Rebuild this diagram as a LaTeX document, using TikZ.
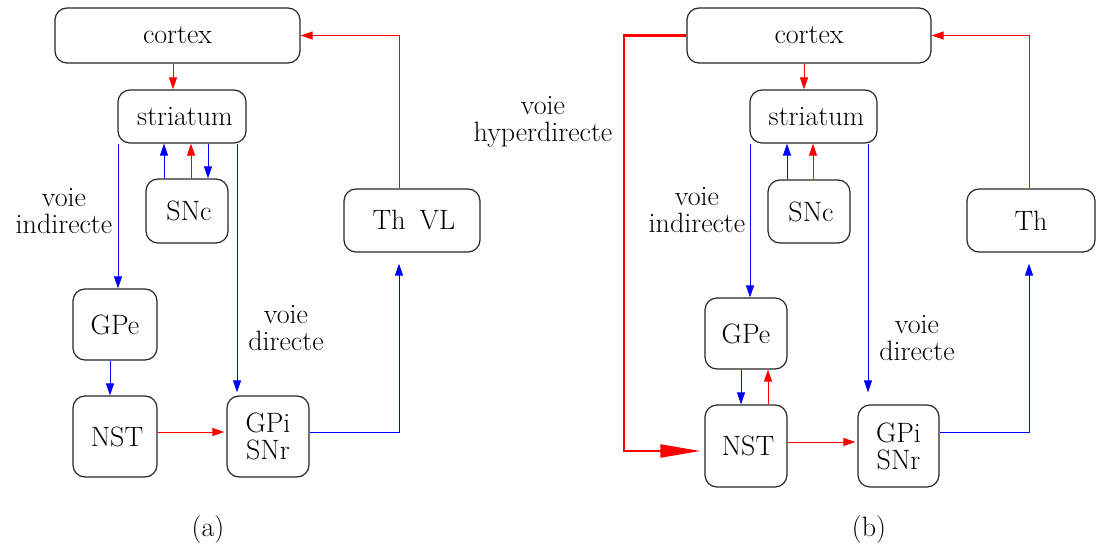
\documentclass[tikz,border=0pt]{standalone}
\usetikzlibrary{arrows.meta}
\begin{document}
\begin{tikzpicture}[x=1pt,y=-1pt,
  every node/.style={font=\rmfamily\fontsize{28}{27}\selectfont},
  box/.style={draw=black!85, line width=1.2pt, rounded corners=12pt, inner sep=0pt, align=center},
  lbl/.style={inner sep=0pt, align=center},
  rarr/.style={draw=red, line width=1pt, -{Triangle[length=12pt,width=8pt]}},
  barr/.style={draw=blue, line width=1pt, -{Triangle[length=12pt,width=8pt]}},
  hyper/.style={draw=red, line width=2.2pt, -{Triangle[length=40pt,width=13pt]}}]
\useasboundingbox (0,0) rectangle (1096,548);
% ---------- panel (a) ----------
\node[box, minimum width=245pt, minimum height=55pt] (cortexA) at (177.5,35.5) {cortex};
\node[box, minimum width=128pt, minimum height=53pt] (striatA) at (182,116.5) {\hspace*{6pt}striatum};
\node[box, minimum width=82pt, minimum height=64pt] (SNcA) at (187,211) {\hspace*{4pt}SNc};
\node[box, minimum width=84pt, minimum height=71pt] (GPeA) at (115,324.5) {GPe};
\node[box, minimum width=84pt, minimum height=81pt] (NSTA) at (115,436.5) {\hspace*{4pt}NST};
\node[box, minimum width=82pt, minimum height=81pt] (GPiA) at (268,436.5) {GPi\\SNr};
\node[box, minimum width=136pt, minimum height=63pt] (ThA) at (412,220.5) {\hspace*{4pt}Th\hspace{0.5em}VL};
\node[lbl] (indA) at (64,211) {voie\\indirecte};
\node[lbl] (dirA) at (286,328) {voie\\directe};
\node[lbl] (capA) at (208,530) {(a)};
\draw[rarr] (cortexA.south -| 173,0) -- (striatA.north -| 173,0);
\draw[barr] (SNcA.north -| 164,0) -- (striatA.south -| 164,0);
\draw[rarr] (SNcA.north -| 191,0) -- (striatA.south -| 191,0);
\draw[barr] (striatA.south -| 208,0) -- (SNcA.north -| 208,0);
\draw[barr] (striatA.south -| 118,0) -- (GPeA.north -| 118,0);
\draw[barr] (GPeA.south -| 110,0) -- (NSTA.north -| 110,0);
\draw[barr, shorten >=3pt] (striatA.south -| 237,0) -- (GPiA.north -| 237,0);
\draw[rarr, shorten >=2pt] (NSTA.east |- 0,432) -- (GPiA.west |- 0,432);
\coordinate (cA) at (399,432);
\draw[barr, shorten >=11pt] (GPiA.east |- cA) -- (cA) -- (ThA.south -| cA);
\coordinate (dA) at (399,35.5);
\draw[rarr] (ThA.north -| dA) -- (dA) -- (cortexA.east);
% ---------- panel (b) ----------
\node[box, minimum width=244pt, minimum height=55pt] (cortexB) at (809,35.5) {cortex};
\node[box, minimum width=127pt, minimum height=53pt] (striatB) at (813.5,116.5) {\hspace*{6pt}striatum};
\node[box, minimum width=82pt, minimum height=63pt] (SNcB) at (809,211.5) {\hspace*{4pt}SNc};
\node[box, minimum width=82pt, minimum height=71pt] (GPeB) at (746,333.5) {GPe};
\node[box, minimum width=82pt, minimum height=82pt] (NSTB) at (746,446) {\hspace*{4pt}NST};
\node[box, minimum width=81pt, minimum height=82pt] (GPiB) at (898.5,446) {GPi\\SNr};
\node[box, minimum width=128pt, minimum height=63pt] (ThB) at (1031,220.5) {Th};
\node[lbl] (indB) at (697,210) {voie\\indirecte};
\node[lbl] (dirB) at (917,338) {voie\\directe};
\node[lbl] (hypB) at (543,122) {voie\\hyperdirecte};
\node[lbl] (capB) at (869,530) {(b)};
\draw[rarr] (cortexB.south -| 804,0) -- (striatB.north -| 804,0);
\draw[barr] (SNcB.north -| 787,0) -- (striatB.south -| 787,0);
\draw[rarr] (SNcB.north -| 813,0) -- (striatB.south -| 813,0);
\draw[barr] (striatB.south -| 750,0) -- (GPeB.north -| 750,0);
\draw[barr] (GPeB.south -| 741,0) -- (NSTB.north -| 741,0);
\draw[rarr] (NSTB.north -| 768,0) -- (GPeB.south -| 768,0);
\draw[barr, shorten >=12pt] (striatB.south -| 868,0) -- (GPiB.north -| 868,0);
\draw[rarr, shorten >=2pt] (NSTB.east |- 0,442) -- (GPiB.west |- 0,442);
\coordinate (cB) at (1029,432);
\draw[barr, shorten >=11pt] (GPiB.east |- cB) -- (cB) -- (ThB.south -| cB);
\coordinate (dB) at (1029,35.5);
\draw[rarr] (ThB.north -| dB) -- (dB) -- (cortexB.east);
\coordinate (hyp) at (624,451);
\draw[hyper, shorten >=4pt] (cortexB.west) -| (hyp) -- (hyp -| NSTB.west);
\end{tikzpicture}
\end{document}
